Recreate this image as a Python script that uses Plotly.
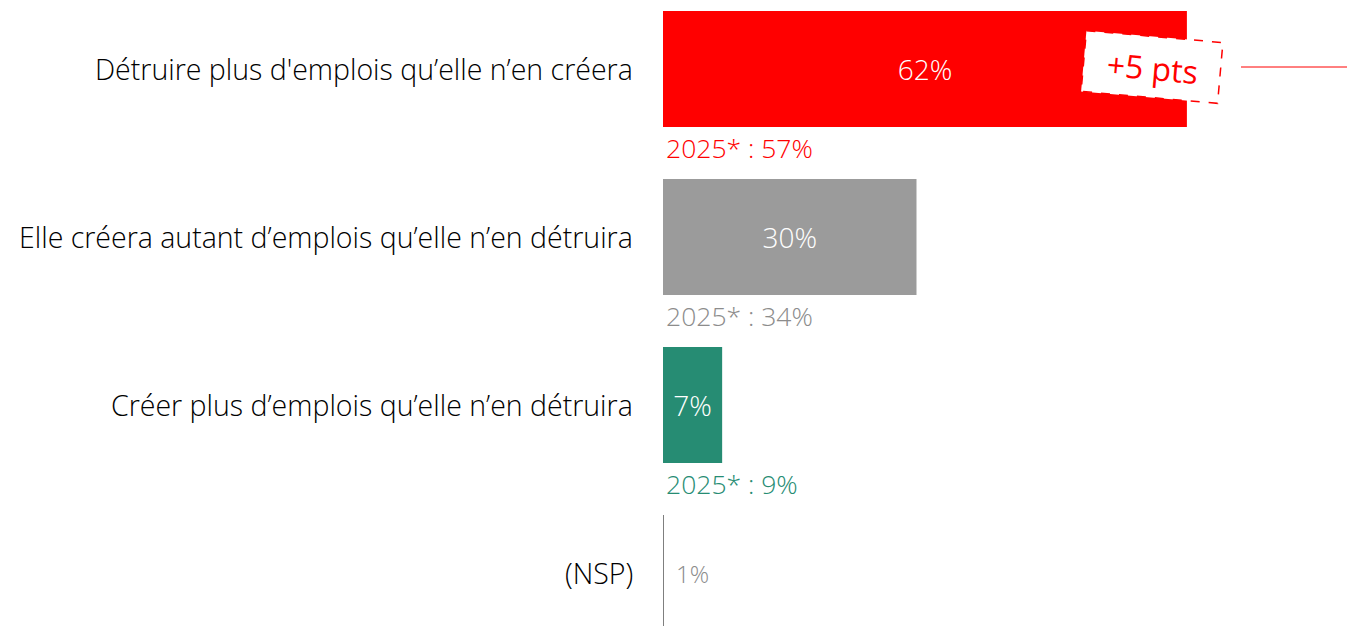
import math
import plotly.graph_objects as go

# données
categories = [
    "Détruire plus d'emplois qu’elle n’en créera",
    "Elle créera autant d’emplois qu’elle n’en détruira",
    "Créer plus d’emplois qu’elle n’en détruira",
    "(NSP)",
]
values_2026 = [62, 30, 7, 1]
values_2025 = [57, 34, 9, None]
colors = ["#FF0000", "#9B9B9B", "#268C73", "#8C8C8C"]
label_colors = ["#FF0000", "#8C8C8C", "#268C73", "#8C8C8C"]
delta_label = "+5 pts"

W, H = 1347, 626
L = 663
PX_PER_PCT = 8.45
x_max = (W - L) / PX_PER_PCT
ROW = 168.0
c0 = 69.0
y_top = -c0 / ROW
y_bot = (H - c0) / ROW

FONT = "Open Sans"


def px_to_data(px, py):
    return (px - L) / PX_PER_PCT, (py - c0) / ROW


fig = go.Figure()
ypos = list(range(len(categories)))
fig.add_trace(
    go.Bar(
        x=values_2026[:3],
        y=ypos[:3],
        orientation="h",
        width=0.69,
        marker=dict(color=colors[:3], line=dict(width=0)),
        text=[f"{v}%" for v in values_2026[:3]],
        textposition="inside",
        insidetextanchor="middle",
        textfont=dict(color="white", size=28, family=FONT, weight=300),
        hoverinfo="skip",
    )
)

annotations = []
for i, cat in enumerate(categories):
    annotations.append(dict(
        x=0, xref="paper", y=i, yref="y", xanchor="right", yanchor="middle",
        xshift=-28, text=cat, showarrow=False,
        font=dict(size=28.5, color="#000000", family=FONT, weight=300),
    ))
    prev = values_2025[i]
    if prev is not None:
        annotations.append(dict(
            x=0, xref="x", y=i + 0.47, yref="y", xanchor="left", yanchor="middle",
            xshift=1, text=f"2025* : {prev}%", showarrow=False,
            font=dict(size=26.5, color=label_colors[i], family=FONT, weight=300),
        ))

# NSP : valeur hors barre
annotations.append(dict(
    x=values_2026[3], xref="x", y=3, yref="y", xanchor="left", yanchor="middle",
    xshift=3, text=f"{values_2026[3]}%", showarrow=False,
    font=dict(size=24, color="#8C8C8C", family=FONT, weight=300),
))

# encadré "+5 pts" incliné (en coordonnées des axes, sous les annotations)
cx, cy, bw, bh, ang = 1152, 67, 137, 61, math.radians(5)
corners = []
for dx, dy in [(-bw / 2, -bh / 2), (bw / 2, -bh / 2), (bw / 2, bh / 2), (-bw / 2, bh / 2)]:
    rx = cx + dx * math.cos(ang) - dy * math.sin(ang)
    ry = cy + dx * math.sin(ang) + dy * math.cos(ang)
    corners.append(px_to_data(rx, ry))
path = "M " + " L ".join(f"{a:.4f},{b:.4f}" for a, b in corners) + " Z"
lx0, ly = px_to_data(1241, 67)
lx1, _ = px_to_data(W, 67)
nx, ny0 = px_to_data(L, 515)
shapes = [
    dict(type="path", path=path, xref="x", yref="y",
         fillcolor="white", line=dict(color="#FF0000", width=1.5, dash="dash")),
    dict(type="line", xref="x", yref="y", x0=lx0, x1=lx1, y0=ly, y1=ly,
         line=dict(color="#FF0000", width=1)),
    dict(type="line", xref="x", yref="y", x0=0.06, x1=0.06, y0=ny0, y1=y_bot,
         line=dict(color="#7F7F7F", width=1)),
]
tx, ty = px_to_data(cx, cy)
annotations.append(dict(
    x=tx, y=ty, xref="x", yref="y", xanchor="center", yanchor="middle",
    text=delta_label, showarrow=False, textangle=5,
    font=dict(size=32, color="#FF0000", family=FONT, weight=400),
))

fig.update_layout(
    width=W, height=H,
    margin=dict(l=L, r=0, t=0, b=0),
    plot_bgcolor="white", paper_bgcolor="white",
    showlegend=False,
    xaxis=dict(range=[0, x_max], visible=False, fixedrange=True),
    yaxis=dict(range=[y_bot, y_top], visible=False, fixedrange=True),
    annotations=annotations,
    shapes=shapes,
)
fig.write_html(
    "out.html",
    config={"displayModeBar": False},
    post_script="document.body.style.margin='0';",
)
